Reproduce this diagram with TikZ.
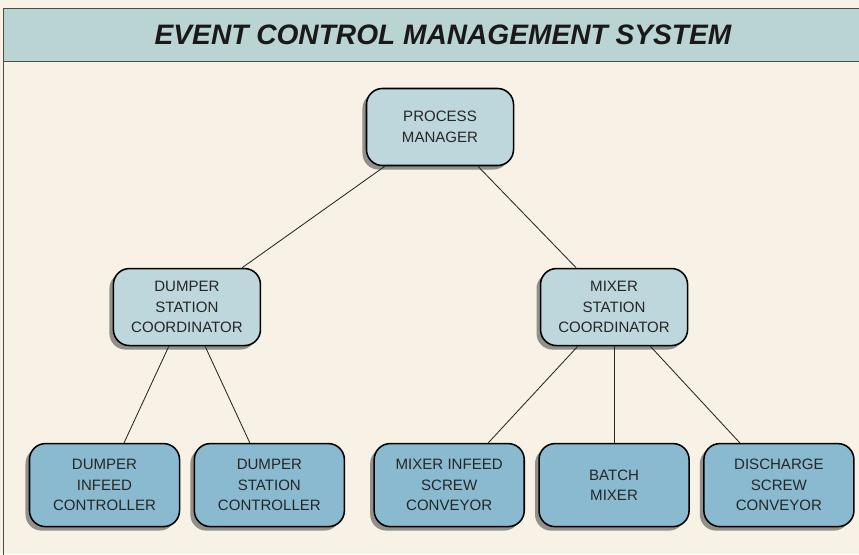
\documentclass[tikz,border=0pt]{standalone}
\usepackage{fontspec}
\setmainfont{Liberation Sans}
\usetikzlibrary{shadows, trees}
\definecolor{paper}{RGB}{247,242,229}
\definecolor{banner}{RGB}{186,211,211}
\definecolor{paleblue}{RGB}{190,215,220}
\definecolor{deepblue}{RGB}{138,186,207}
\begin{document}
\begin{tikzpicture}[x=0.025cm, y=-0.025cm,
  level 1/.style={grow via three points={one child at (-1cm,-4.5cm) and two children at (-6.325cm,-4.5cm) and (4.35cm,-4.5cm)}},
  level 2/.style={grow via three points={one child at (0cm,-4.45cm) and two children at (-2.06cm,-4.45cm) and (2.06cm,-4.45cm)}},
  edge from parent/.style={draw, line width=0.6pt, black!85},
  box/.style={draw=black, line width=1.1pt, rounded corners=0.4cm, align=center, text=black!85,
    font=\fontsize{10.7}{14.5}\selectfont,
    drop shadow={shadow xshift=-0.1cm, shadow yshift=-0.1cm, fill=black!75, opacity=0.55}},
  upper/.style={box, fill=paleblue, minimum width=3.675cm, minimum height=1.925cm},
  lower/.style={box, fill=deepblue, minimum width=3.75cm, minimum height=2.075cm}]
% page and frame
\fill[paper] (0,0) rectangle (859,554);
\useasboundingbox (0,0) rectangle (859,554);
\clip (0,0) rectangle (859,554);
\fill[banner] (3,8) rectangle (870,61);
\draw[black!70, line width=0.6pt] (3,570) -- (3,8) -- (870,8);
\draw[black!70, line width=0.6pt] (3,61) -- (870,61);
\node[font=\fontsize{20}{24}\selectfont\bfseries\itshape, text=black!90] (title) at (443,35) {EVENT CONTROL MANAGEMENT SYSTEM};
% hierarchy
\node[upper] (pm) at (440,127) {PROCESS\\MANAGER}
  child {
    node[upper] (dsc) {DUMPER\\STATION\\COORDINATOR}
    child {node[lower] (dic) {DUMPER\\INFEED\\CONTROLLER}}
    child {node[lower] (dsctl) {DUMPER\\STATION\\CONTROLLER}}
  }
  child {
    node[upper] (msc) {MIXER\\STATION\\COORDINATOR}
    child {node[lower] (misc) {MIXER INFEED\\SCREW\\CONVEYOR}}
    child {node[lower] (bm) {BATCH\\MIXER}}
    child {node[lower] (dsconv) {DISCHARGE\\SCREW\\CONVEYOR}}
  };
\end{tikzpicture}
\end{document}
